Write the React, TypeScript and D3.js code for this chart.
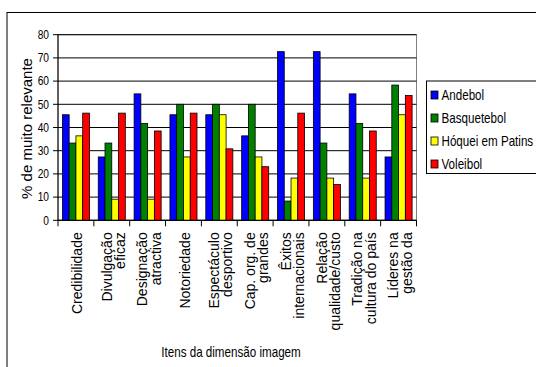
import React from "react";
import * as d3 from "d3";

const categories: string[][] = [
  ["Credibilidade"],
  ["Divulgação", "eficaz"],
  ["Designação", "atractiva"],
  ["Notoriedade"],
  ["Espectáculo", "desportivo"],
  ["Cap. org. de", "grandes"],
  ["Êxitos", "internacionais"],
  ["Relação", "qualidade/custo"],
  ["Tradição na", "cultura do país"],
  ["Líderes na", "gestão da"],
];
const seriesNames = ["Andebol", "Basquetebol", "Hóquei em Patins", "Voleibol"];
const andebol = [45.5, 27.3, 54.5, 45.5, 45.5, 36.4, 72.7, 72.7, 54.5, 27.3];
const basquetebol = [33.3, 33.3, 41.7, 50, 50, 50, 8.3, 33.3, 41.7, 58.3];
const hoquei = [36.4, 9.1, 9.1, 27.3, 45.5, 27.3, 18.2, 18.2, 18.2, 45.5];
const voleibol = [46.2, 46.2, 38.5, 46.2, 30.8, 23.1, 46.2, 15.4, 38.5, 53.8];
const yTicks = [0, 10, 20, 30, 40, 50, 60, 70, 80];
const colors = ["#0000FF", "#008000", "#FFFF00", "#FF0000"];

const seriesValues = [andebol, basquetebol, hoquei, voleibol];

export default function App() {
  const W = 536;
  const H = 367;
  const left = 58;
  const right = 416.5;
  const top = 34.7;
  const bottom = 220.3;
  const font = "'Liberation Sans', Arial, sans-serif";
  const sx = 0.83; // horizontal text is drawn slightly condensed

  const x0 = d3
    .scaleBand<number>()
    .domain(d3.range(categories.length))
    .range([left, right])
    .paddingInner(0)
    .paddingOuter(0);
  const bw = x0.bandwidth();
  const gapRatio = 1.3;
  const barW = bw / (seriesNames.length + gapRatio);
  const y = d3.scaleLinear().domain([0, 80]).range([bottom, top]);

  return (
    <svg
      width={W}
      height={H}
      style={{ position: "absolute", left: 0, top: 0, background: "#fff" }}
      fontFamily={font}
    >
      <rect x={0} y={0} width={W} height={H} fill="#fff" />
      {/* chart frame */}
      <rect x={7} y={12.5} width={W + 20} height={H + 20} fill="#fff" stroke="#000" strokeWidth={1} />

      {/* plot area */}
      <rect x={left} y={top} width={right - left} height={bottom - top} fill="#fff" stroke="#808080" strokeWidth={1} />
      {yTicks.map((t) => (
        <line key={"g" + t} x1={left} x2={right} y1={y(t)} y2={y(t)} stroke="#000" strokeWidth={1} />
      ))}

      {/* bars */}
      {categories.map((_, ci) =>
        seriesValues.map((vals, si) => {
          const bx = (x0(ci) as number) + (gapRatio / 2) * barW + si * barW;
          return (
            <rect
              key={`b${ci}-${si}`}
              x={bx}
              y={y(vals[ci])}
              width={barW}
              height={y(0) - y(vals[ci])}
              fill={colors[si]}
              stroke="#000"
              strokeWidth={0.8}
            />
          );
        })
      )}

      {/* axes */}
      <line x1={left} x2={left} y1={top} y2={bottom} stroke="#000" />
      <line x1={left} x2={right} y1={bottom} y2={bottom} stroke="#000" />
      {yTicks.map((t) => (
        <g key={"yt" + t}>
          <line x1={left - 5} x2={left} y1={y(t)} y2={y(t)} stroke="#000" />
          <text
            transform={`translate(${left - 9},${y(t)}) scale(0.85,1)`}
            dy="0.35em"
            textAnchor="end"
            fontSize={12}
            fill="#000"
          >
            {t}
          </text>
        </g>
      ))}
      {d3.range(categories.length + 1).map((i) => {
        const xx = left + i * bw;
        return <line key={"xt" + i} x1={xx} x2={xx} y1={bottom} y2={bottom + 6} stroke="#000" />;
      })}

      {/* category labels, rotated */}
      {categories.map((lines, ci) => {
        const cx = (x0(ci) as number) + bw / 2 + 1.5;
        const lh = 13.3;
        const n = lines.length;
        return (
          <text
            key={"cl" + ci}
            transform={`translate(${cx},${bottom + 12}) rotate(-90)`}
            fontSize={14}
            fill="#000"
          >
            {lines.map((ln, li) => (
              <tspan
                key={li}
                x={0}
                y={(li - (n - 1) / 2) * lh}
                dy="0.35em"
                textAnchor="end"
              >
                {ln}
              </tspan>
            ))}
          </text>
        );
      })}

      {/* axis titles */}
      <text
        transform={`translate(27,${128.5}) rotate(-90)`}
        textAnchor="middle"
        dy="0.35em"
        fontSize={15}
        fill="#000"
      >
        % de muito relevante
      </text>
      <text
        transform={`translate(231,352) scale(${sx},1)`}
        textAnchor="middle"
        dy="0.35em"
        fontSize={14}
        fill="#000"
      >
        Itens da dimensão imagem
      </text>

      {/* legend */}
      <rect x={426.5} y={81} width={130} height={92.5} fill="#fff" stroke="#000" />
      {seriesNames.map((name, i) => {
        const cy = 95 + i * 23;
        return (
          <g key={"lg" + i}>
            <rect x={431} y={cy - 4} width={7} height={8} fill={colors[i]} stroke="#000" strokeWidth={0.8} />
            <text
              transform={`translate(441.5,${cy}) scale(${sx},1)`}
              dy="0.35em"
              fontSize={14}
              fill="#000"
            >
              {name}
            </text>
          </g>
        );
      })}
    </svg>
  );
}
